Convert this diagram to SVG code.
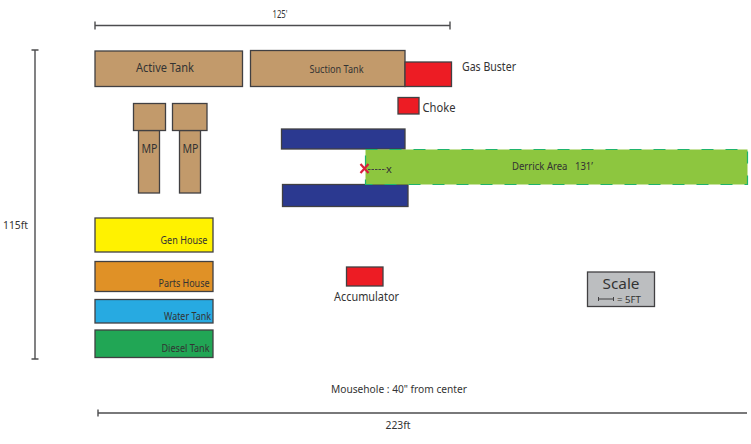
<svg xmlns="http://www.w3.org/2000/svg" width="751" height="444" viewBox="0 0 751 444">
<style>
text{font-family:"Noto Sans","Open Sans","Liberation Sans",sans-serif;fill:#333}
.b{stroke:#414042;stroke-width:1.300}
.tan{fill:#c29a6b}
.red{fill:#ed1c24}
.blue{fill:#2b3990}
.dim{stroke:#4d4d4f;stroke-width:1.400;fill:none}
.s9{font-size:10px}
.s10{font-size:11px}
.s11{font-size:12px}
</style>
<rect width="751" height="444" fill="#fff"/>
<g id="connectors">
<path class="dim" d="M95 25.500H450M95 21.500V29.500M450 21.500V29.500"/>
<path class="dim" d="M35 50V359M31.500 50H38.500M31.500 359H38.500"/>
<path class="dim" d="M98 413H747M98 409.500V416.500"/>
</g>
<g id="dim-top"><text x="280" y="18" class="s9" text-anchor="middle" textLength="15" lengthAdjust="spacingAndGlyphs">125'</text></g>
<g id="dim-left"><text x="3" y="229" class="s10" textLength="25" lengthAdjust="spacingAndGlyphs">115ft</text></g>
<g id="dim-bottom"><text x="398" y="429" class="s10" text-anchor="middle" textLength="25" lengthAdjust="spacingAndGlyphs">223ft</text></g>
<g id="active-tank"><rect x="95" y="51" width="147.500" height="35.500" class="tan b"/><text x="165" y="72" class="s11" text-anchor="middle" textLength="58" lengthAdjust="spacingAndGlyphs">Active Tank</text></g>
<g id="suction-tank"><rect x="250.500" y="50.500" width="154.500" height="36" class="tan b"/><text x="336.500" y="73" class="s10" text-anchor="middle" textLength="54" lengthAdjust="spacingAndGlyphs">Suction Tank</text></g>
<g id="gas-buster"><rect x="405" y="62" width="46.500" height="24.500" class="red b"/><text x="462" y="71" class="s11" textLength="54" lengthAdjust="spacingAndGlyphs">Gas Buster</text></g>
<g id="choke"><rect x="398" y="97.500" width="21" height="16.500" class="red b"/><text x="422.500" y="112" class="s11" textLength="33" lengthAdjust="spacingAndGlyphs">Choke</text></g>
<g id="mp-1"><rect x="138.500" y="130.500" width="21" height="62.500" class="tan b"/><rect x="133.500" y="103.500" width="32" height="27" class="tan b"/><text x="149.500" y="152.500" font-size="13" text-anchor="middle" textLength="16" lengthAdjust="spacingAndGlyphs">MP</text></g>
<g id="mp-2"><rect x="179.500" y="130.500" width="21" height="62.500" class="tan b"/><rect x="172.500" y="103.500" width="34.500" height="27" class="tan b"/><text x="190.500" y="152.500" font-size="13" text-anchor="middle" textLength="16" lengthAdjust="spacingAndGlyphs">MP</text></g>
<g id="sub-top"><rect x="281.500" y="129" width="123.500" height="20" class="blue b"/></g>
<g id="sub-bottom"><rect x="282.500" y="184.500" width="125.500" height="22" class="blue b"/></g>
<g id="derrick-area"><rect x="365.500" y="149.500" width="382" height="35" fill="#8dc63f"/><rect x="365.500" y="149.500" width="382" height="35" fill="none" stroke="#1fb36b" stroke-width="1.200" stroke-dasharray="12 12"/><text x="512" y="170" class="s9" textLength="81" lengthAdjust="spacingAndGlyphs" xml:space="preserve">Derrick Area   131’</text></g>
<g id="mousehole"><path d="M360.500 164L368.500 173M368.500 164L360.500 173" stroke="#d91f3c" stroke-width="2.200" fill="none"/><path d="M368 169.500H386" stroke="#414042" stroke-width="1" stroke-dasharray="2.500 1" fill="none"/><text x="386" y="173" class="s10">x</text></g>
<g id="gen-house"><rect x="95" y="218" width="118" height="34" fill="#fff200" class="b"/><text x="207.500" y="244" class="s9" text-anchor="end" textLength="47" lengthAdjust="spacingAndGlyphs">Gen House</text></g>
<g id="parts-house"><rect x="95" y="261.500" width="118" height="30" fill="#e09126" class="b"/><text x="209.500" y="287" class="s9" text-anchor="end" textLength="51" lengthAdjust="spacingAndGlyphs">Parts House</text></g>
<g id="water-tank"><rect x="95" y="299.500" width="118" height="23.500" fill="#27aae1" class="b"/><text x="211" y="320" class="s9" text-anchor="end" textLength="47" lengthAdjust="spacingAndGlyphs">Water Tank</text></g>
<g id="diesel-tank"><rect x="95" y="330" width="118" height="27.500" fill="#21a655" class="b"/><text x="209.500" y="352" class="s9" text-anchor="end" textLength="48" lengthAdjust="spacingAndGlyphs">Diesel Tank</text></g>
<g id="accumulator"><rect x="346.500" y="267" width="36.500" height="19" class="red b"/><text x="334" y="301" class="s11" textLength="65" lengthAdjust="spacingAndGlyphs">Accumulator</text></g>
<g id="mousehole-note"><text x="331" y="393" class="s10" textLength="136" lengthAdjust="spacingAndGlyphs">Mousehole : 40" from center</text></g>
<g id="scale"><rect x="587.500" y="272" width="67" height="34.500" fill="#bcbec0" class="b"/><text x="621" y="289" font-size="14.500" text-anchor="middle" textLength="37" lengthAdjust="spacingAndGlyphs">Scale</text><path d="M598.500 299H613.500M598.500 297V301M613.500 297V301" stroke="#414042" stroke-width="1" fill="none"/><text x="617" y="303" font-size="8.500" textLength="24" lengthAdjust="spacingAndGlyphs">= 5FT</text></g>
</svg>
